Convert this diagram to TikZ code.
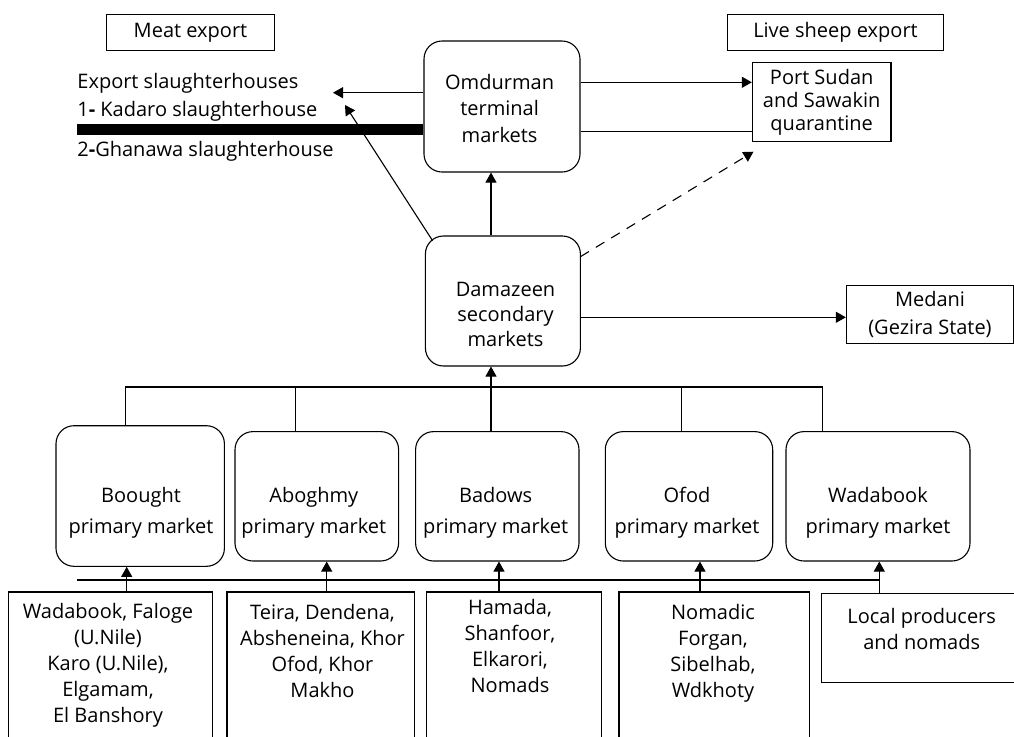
\documentclass[tikz,border=0pt]{standalone}
\usepackage{fontspec}
\setmainfont{Open Sans}
\usetikzlibrary{arrows.meta, calc}
\tikzset{%
    ln/.style={line width = 0.55pt},
    lna/.style={line width = 0.55pt, -{Triangle[length=5pt,width=5.5pt]}},
    lnda/.style={line width = 0.55pt, dash pattern=on 5pt off 4pt, -{Triangle[length=5pt,width=5.5pt]}},
    bar/.style={line width = 5.5pt},
    box/.style={draw, line width = 0.55pt, rectangle, inner sep=0pt},
    rbox/.style={draw, line width = 0.55pt, rectangle, rounded corners=9pt, inner sep=0pt},
    txt/.style={align=center, inner sep=0pt, font=\fontsize{10}{13}\selectfont},
}
\begin{document}
\begin{tikzpicture}[x=0.5pt, y=-0.5pt]
    \useasboundingbox (0,0) rectangle (1014,736);
    \clip (0,0) rectangle (1014,736);
    \node [box, txt, minimum width=83.8pt, minimum height=18pt] (meat) at (190.5,32.3) {Meat export};
    \node [box, txt, minimum width=107.8pt, minimum height=18pt] (live) at (835.5,32.2) {Live sheep export};
    \node [rbox, minimum width=78pt, minimum height=65.5pt] (omd) at (502,106.5) {};
    \node [txt, font=\fontsize{10}{13.3}\selectfont] (omdt) at (499.6,108.3) {Omdurman\\terminal\\markets};
    \node [box, txt, font=\fontsize{10}{11.5}\selectfont, minimum width=69.3pt, minimum height=39.8pt] (port) at (821.7,101.9) {Port Sudan\\and Sawakin\\quarantine};
    \node [rbox, minimum width=77.5pt, minimum height=65pt] (dam) at (502.9,301) {};
    \node [txt, font=\fontsize{10}{12.7}\selectfont] (damt) at (505.5,314.5) {Damazeen\\secondary\\markets};
    \node [box, txt, font=\fontsize{10}{14}\selectfont, minimum width=83.6pt, minimum height=29pt] (medani) at (930,314.2) {Medani\\(Gezira State)};
    \node [txt, anchor=west] (slh) at (77,83) {Export slaughterhouses};
    \node [txt, anchor=west] (kad) at (77,111.7) {1\textbf{-} Kadaro slaughterhouse};
    \node [txt, anchor=west] (gha) at (77,151.7) {2\textbf{-}Ghanawa slaughterhouse};

    \node [rbox, minimum width=84.2pt, minimum height=70.3pt] (bough) at (140.2,496) {};
    \node [rbox, minimum width=81.8pt, minimum height=64.7pt] (abog) at (316.8,496.3) {};
    \node [rbox, minimum width=81.7pt, minimum height=64.7pt] (badows) at (497.3,496.3) {};
    \node [rbox, minimum width=83.7pt, minimum height=64.7pt] (ofod) at (689,496.3) {};
    \node [rbox, minimum width=92pt, minimum height=64.7pt] (wada) at (878,496.3) {};
    \node [txt, font=\fontsize{10}{15.5}\selectfont] (bought) at (141,512.5) {Boought\\primary market};
    \node [txt, font=\fontsize{10}{15.5}\selectfont] (abogt) at (313.8,512.5) {Aboghmy\\primary market};
    \node [txt, font=\fontsize{10}{15.5}\selectfont] (badowst) at (495.7,512.5) {Badows\\primary market};
    \node [txt, font=\fontsize{10}{15.5}\selectfont] (ofodt) at (687,512.5) {Ofod\\primary market};
    \node [txt, font=\fontsize{10}{15.5}\selectfont] (wadat) at (878,512.5) {Wadabook\\primary market};

    \node [box, minimum width=102pt, minimum height=94pt] (src1) at (110.3,686) {};
    \node [box, minimum width=93.7pt, minimum height=94pt] (src2) at (320.7,686) {};
    \node [box, minimum width=87.3pt, minimum height=94pt] (src3) at (514,686) {};
    \node [box, minimum width=95.2pt, minimum height=94pt] (src4) at (714.2,686) {};
    \node [box, minimum width=104pt, minimum height=44.8pt] (src5) at (925.9,637.9) {};
    \node [txt] (srct1) at (108,665.5) {Wadabook, Faloge\\(U.Nile)\\Karo (U.Nile),\\Elgamam,\\El Banshory};
    \node [txt] (srct2) at (322.5,651) {Teira, Dendena,\\Absheneina, Khor\\Ofod, Khor\\Makho};
    \node [txt] (srct3) at (510,646) {Hamada,\\Shanfoor,\\Elkarori,\\Nomads};
    \node [txt] (srct4) at (713,653) {Nomadic\\Forgan,\\Sibelhab,\\Wdkhoty};
    \node [txt] (srct5) at (921.7,629.2) {Local producers\\and nomads};

    \coordinate (tipa) at (333,92.7);
    \coordinate (tipb) at (345,105);
    \coordinate (damtl) at (432.6,240.7);
    \coordinate (barl) at (77,129.5);
    \coordinate (exp) at (0,82.3);
    \coordinate (ret) at (0,131.7);
    \coordinate (damr) at (580.4,256.7);
    \coordinate (qtip) at (753.5,151.7);
    \coordinate (med) at (0,317.3);
    \coordinate (spine) at (491,387);
    \coordinate (hl) at (125.3,387);
    \coordinate (hr) at (822.3,387);
    \coordinate (bl) at (77.3,580);
    \coordinate (br) at (879.3,580);

    \draw [bar] (barl) -- (barl -| omd.west);
    \draw [lna] (tipa -| omd.west) -- (tipa);
    \draw [lna] (damtl) -- (tipb);
    \draw [lna] (spine |- dam.north) -- (spine |- omd.south);
    \draw [lna] (exp -| omd.east) -- (exp -| port.west);
    \draw [ln] (ret -| omd.east) -- (ret -| port.west);
    \draw [lnda] (damr) -- (qtip);
    \draw [lna] (med -| dam.east) -- (med -| medani.west);

    \draw [ln] (hl |- bough.north) -- (hl) -- (hr) -- (hr |- wada.north);
    \draw [ln] (abog.north -| 295.3,0) -- (295.3,387);
    \draw [ln] (ofod.north -| 681.7,0) -- (681.7,387);
    \draw [lna] (spine |- badows.north) -- (spine |- dam.south);

    \draw [ln] (bl) -- (br);
    \draw [lna] (src1.north -| 126.7,0) -- (bough.south -| 126.7,0);
    \draw [lna] (src2.north -| 326.7,0) -- (abog.south -| 326.7,0);
    \draw [lna] (src3.north -| 499,0) -- (badows.south -| 499,0);
    \draw [lna] (src4.north -| 700,0) -- (ofod.south -| 700,0);
    \draw [lna] (src5.north -| br) -- (wada.south -| br);
\end{tikzpicture}
\end{document}
